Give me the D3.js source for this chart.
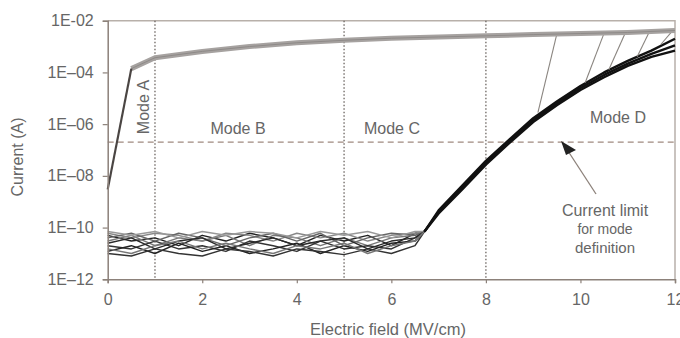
<!DOCTYPE html>
<html lang="en">
<head>
<meta charset="UTF-8">
<title>Current vs electric field</title>
<script src="https://d3js.org/d3.v7.min.js"></script>
<style>
    body { margin: 0; background: #fff; }
    text { font-family: Arial, "Liberation Sans", sans-serif; fill: #666; }
    .tick text { font-size: 16px; }
</style>
</head>
<body>
<div id="chart"></div>
<script>
    // field axis ticks and current axis ticks
    const xTicks = [0, 2, 4, 6, 8, 10, 12];
    const yTicks = [1e-2, 1e-4, 1e-6, 1e-8, 1e-10, 1e-12];
    const yTickLabels = ["1E-02", "1E\u201304", "1E\u201306", "1E\u201308", "1E\u201310", "1E\u201312"];

    // mode boundaries (MV/cm) and current limit (A)
    const modeBounds = [1, 5, 8];
    const currentLimit = 2e-7;

    // Mode A: initial jump then the compliance band at the top
    const modeAField = [0, 0.5];
    const modeACurrent = [3e-9, 1.4e-4];
    const topField = [0.5, 1, 2, 3, 4, 5, 6, 7, 8, 9, 10, 11, 12];
    const topCurrent = [1.4e-4, 3.7e-4, 6.5e-4, 1e-3, 1.4e-3, 1.75e-3, 2.1e-3, 2.35e-3, 2.6e-3, 2.9e-3, 3.2e-3, 3.5e-3, 4.2e-3];

    // leakage noise before the rise
    const noiseField = [0, 0.5, 1, 1.5, 2, 2.5, 3, 3.5, 4, 4.5, 5, 5.5, 6, 6.5];
    const noiseTraces = [
        [5e-11, 3e-11, 4e-11, 2e-11, 5e-11, 3e-11, 6e-11, 4e-11, 2e-11, 5e-11, 3e-11, 5e-11, 2e-11, 6e-11],
        [3e-11, 5e-11, 2e-11, 4e-11, 3e-11, 5e-11, 2e-11, 5e-11, 4e-11, 2e-11, 4e-11, 2e-11, 4e-11, 5e-11],
        [2e-11, 1.5e-11, 3e-11, 1.5e-11, 2e-11, 1.2e-11, 3e-11, 2e-11, 1.2e-11, 3e-11, 1.5e-11, 2e-11, 1.5e-11, 4e-11],
        [6e-11, 4e-11, 6e-11, 5e-11, 3e-11, 6e-11, 5e-11, 3e-11, 6e-11, 4e-11, 6e-11, 3e-11, 5e-11, 6e-11],
        [1.2e-11, 2e-11, 1e-11, 2.5e-11, 1.2e-11, 2e-11, 1e-11, 1.5e-11, 2.5e-11, 1e-11, 2e-11, 1.2e-11, 2.5e-11, 3e-11],
        [4e-11, 6e-11, 3e-11, 6e-11, 4e-11, 2e-11, 4e-11, 6e-11, 3e-11, 6e-11, 2e-11, 4e-11, 6e-11, 5e-11],
        [1e-11, 8e-12, 1.5e-11, 1e-11, 8e-12, 1.5e-11, 1.2e-11, 8e-12, 1.5e-11, 1.2e-11, 9e-12, 1.5e-11, 1e-11, 2e-11],
        [7e-11, 5e-11, 7e-11, 4e-11, 7e-11, 5e-11, 7e-11, 6e-11, 4e-11, 7e-11, 5e-11, 7e-11, 4e-11, 7e-11],
        [2.5e-11, 4e-11, 1.5e-11, 3e-11, 4e-11, 1.5e-11, 2.5e-11, 4e-11, 2e-11, 3e-11, 4e-11, 1.5e-11, 3e-11, 4e-11],
        [1.5e-11, 1e-11, 2e-11, 3e-11, 1.5e-11, 2.5e-11, 1.5e-11, 1e-11, 2e-11, 1.5e-11, 2.5e-11, 1e-11, 2e-11, 3e-11]
    ];
    const noiseColors = ["#222", "#777", "#333", "#888", "#222", "#666", "#333", "#999", "#2a2a2a", "#777"];

    // tunnelling rise (three edges of the black band)
    const riseField = [6.7, 7, 7.5, 8, 8.5, 9, 9.5, 10, 10.5, 11, 11.5, 12];
    const riseTraces = [
        [7e-11, 4.6e-10, 4.2e-9, 3.8e-8, 2.6e-7, 1.7e-6, 7.5e-6, 3e-5, 1e-4, 2.8e-4, 7e-4, 2e-3],
        [7e-11, 4e-10, 3.5e-9, 3.2e-8, 2.2e-7, 1.4e-6, 6.3e-6, 2.5e-5, 8e-5, 2.2e-4, 5.2e-4, 1.1e-3],
        [7e-11, 3.5e-10, 3e-9, 2.7e-8, 1.9e-7, 1.2e-6, 5.4e-6, 2.1e-5, 6.5e-5, 1.8e-4, 4e-4, 7e-4]
    ];

    // breakdown jumps from the rise up to the compliance band
    const jumpFrom = [9.1, 10.1, 10.6, 11.2, 11.7];
    const jumpFromCurrent = [2.8e-6, 4e-5, 1.26e-4, 4e-4, 1.2e-3];
    const jumpTo = [9.5, 10.5, 10.95, 11.45, 11.95];
    const jumpToCurrent = [3e-3, 3.3e-3, 3.4e-3, 3.5e-3, 4.1e-3];

    const width = 680, height = 338;
    const margin = { top: 20.7, right: 5, bottom: 58.7, left: 107.7 };

    const svg = d3.select("#chart").append("svg")
        .attr("width", width)
        .attr("height", height);

    const x = d3.scaleLinear().domain([0, 12]).range([margin.left, width - margin.right]);
    const y = d3.scaleLog().domain([1e-12, 1e-2]).range([height - margin.bottom, margin.top]);

    const axisColor = "#8c817a";

    // frame (top and right)
    svg.append("path")
        .attr("d", `M${x(0)},${y(1e-2)}H${x(12)}V${y(1e-12)}`)
        .attr("fill", "none")
        .attr("stroke", "#b8b0aa")
        .attr("stroke-width", 1.5);

    // mode boundaries
    svg.append("g").selectAll("line")
        .data(modeBounds)
        .enter().append("line")
        .attr("x1", d => x(d)).attr("x2", d => x(d))
        .attr("y1", y(1e-2)).attr("y2", y(1e-12))
        .attr("stroke", "#6b6460")
        .attr("stroke-width", 1.3)
        .attr("stroke-dasharray", "1.5,2");

    // current limit
    svg.append("line")
        .attr("x1", x(0)).attr("x2", x(12))
        .attr("y1", y(currentLimit)).attr("y2", y(currentLimit))
        .attr("stroke", "#a08a80")
        .attr("stroke-width", 1.3)
        .attr("stroke-dasharray", "6,4");

    const line = d3.line().x(d => x(d[0])).y(d => y(d[1]));
    const plot = svg.append("g").attr("fill", "none").attr("stroke-linejoin", "round");

    // noise traces
    noiseTraces.forEach((tr, i) => {
        const pts = noiseField.map((f, j) => [f, tr[j]]);
        pts.push([riseField[0], riseTraces[1][0]]);
        plot.append("path")
            .attr("d", line(pts))
            .attr("stroke", noiseColors[i])
            .attr("stroke-width", 1.5);
    });

    // rise band
    riseTraces.forEach(tr => {
        plot.append("path")
            .attr("d", line(riseField.map((f, j) => [f, tr[j]])))
            .attr("stroke", "#111")
            .attr("stroke-width", 2.4);
    });

    // breakdown jumps
    plot.append("g").selectAll("line")
        .data(jumpFrom)
        .enter().append("line")
        .attr("x1", d => x(d))
        .attr("y1", (d, i) => y(jumpFromCurrent[i]))
        .attr("x2", (d, i) => x(jumpTo[i]))
        .attr("y2", (d, i) => y(jumpToCurrent[i]))
        .attr("stroke", "#8a8580")
        .attr("stroke-width", 1.1);

    // compliance band and mode A jump
    plot.append("path")
        .attr("d", line(topField.map((f, j) => [f, topCurrent[j]])))
        .attr("stroke", "#a6a2a0")
        .attr("stroke-width", 5);
    plot.append("path")
        .attr("d", line(topField.map((f, j) => [f, topCurrent[j]])))
        .attr("stroke", "#8e8a88")
        .attr("stroke-width", 1);
    plot.append("path")
        .attr("d", line(modeAField.map((f, j) => [f, modeACurrent[j]])))
        .attr("stroke", "#4a4543")
        .attr("stroke-width", 2.2);

    // axes
    const xAxis = svg.append("g")
        .attr("transform", `translate(0,${y(1e-12)})`)
        .call(d3.axisBottom(x).tickValues(xTicks).tickSize(4).tickPadding(10).tickFormat(d3.format("d")));
    const yAxis = svg.append("g")
        .attr("transform", `translate(${x(0)},0)`)
        .call(d3.axisLeft(y).tickValues(yTicks).tickSize(5).tickPadding(9).tickFormat((d, i) => yTickLabels[i]));
    [xAxis, yAxis].forEach(a => {
        a.select(".domain").attr("stroke", axisColor).attr("stroke-width", 1.5);
        a.selectAll(".tick line").attr("stroke", axisColor).attr("stroke-width", 1.2);
        a.selectAll(".tick text").attr("fill", "#666");
    });

    // axis titles
    svg.append("text")
        .attr("x", 388).attr("y", 335)
        .attr("text-anchor", "middle")
        .attr("font-size", 16.5)
        .text("Electric field (MV/cm)");
    svg.append("text")
        .attr("transform", "translate(23,157) rotate(-90)")
        .attr("text-anchor", "middle")
        .attr("font-size", 16)
        .text("Current (A)");

    // mode labels
    svg.append("text")
        .attr("transform", "translate(149,107) rotate(-90)")
        .attr("text-anchor", "middle")
        .attr("font-size", 16)
        .text("Mode A");
    [["Mode B", 238, 134], ["Mode C", 392, 134], ["Mode D", 618, 123]].forEach(m => {
        svg.append("text")
            .attr("x", m[1]).attr("y", m[2])
            .attr("text-anchor", "middle")
            .attr("font-size", 16)
            .text(m[0]);
    });

    // current limit annotation
    svg.append("line")
        .attr("x1", 596).attr("y1", 194)
        .attr("x2", 568).attr("y2", 151)
        .attr("stroke", "#8c817a")
        .attr("stroke-width", 1.3);
    svg.append("path")
        .attr("d", "M561,141 L576,150 L566,155 Z")
        .attr("fill", "#222");
    [["Current limit", 216, 16], ["for mode", 234, 14], ["definition", 253, 15]].forEach(t => {
        svg.append("text")
            .attr("x", 605).attr("y", t[1])
            .attr("text-anchor", "middle")
            .attr("font-size", t[2])
            .text(t[0]);
    });
</script>
</body>
</html>
